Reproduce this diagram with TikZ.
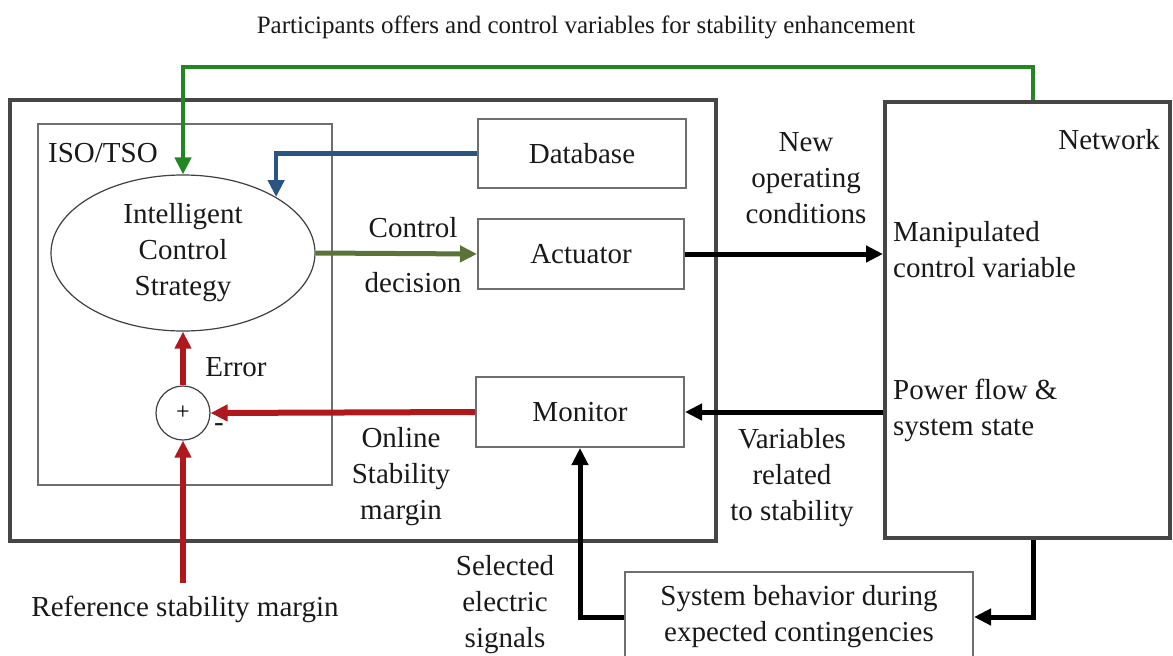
\documentclass[tikz,border=0pt]{standalone}
\usepackage{fontspec}
\setmainfont{Liberation Serif}
\usetikzlibrary{arrows.meta,shapes.geometric,calc}
\definecolor{topgreen}{RGB}{34,135,34}
\definecolor{dbblue}{RGB}{40,85,130}
\definecolor{olive}{RGB}{90,115,55}
\definecolor{sred}{RGB}{175,25,30}
\definecolor{frame}{RGB}{70,70,70}
\definecolor{lframe}{RGB}{110,110,110}
\tikzset{
  body/.style={font=\fontsize{29}{36}\selectfont, text=black!90},
  blockbox/.style={draw=lframe, line width=2pt, rectangle, inner sep=0pt, body},
  lbl/.style={body, align=center, inner sep=0pt},
  lbll/.style={body, align=left, inner sep=0pt},
  tip/.style={-{Triangle[length=17pt,width=16pt]}},
  blk/.style={tip, line width=5pt, black},
  redarr/.style={tip, line width=6pt, sred},
  grnarr/.style={tip, line width=4.5pt, topgreen},
  bluarr/.style={tip, line width=4.5pt, dbblue},
  olvarr/.style={tip, line width=5pt, olive},
}
\begin{document}
\begin{tikzpicture}[x=1pt,y=-1pt]
\useasboundingbox (0,0) rectangle (1173,656);
% title
\node[lbl, font=\fontsize{25}{30}\selectfont] (title) at (586,27) {Participants offers and control variables for stability enhancement};
% outer controller box and ISO/TSO box
\node[draw=frame, line width=3.5pt, rectangle, inner sep=0pt, minimum width=706pt, minimum height=441pt] (outer) at (363,320.5) {};
\node[draw=lframe, line width=2pt, rectangle, inner sep=0pt, minimum width=294pt, minimum height=361pt] (iso) at (185,304.5) {};
\node[lbll, anchor=west] (isolbl) at (48,153) {ISO/TSO};
% network
\node[draw=frame, line width=4pt, rectangle, inner sep=0pt, minimum width=285pt, minimum height=436pt, fill=white] (net) at (1027.5,320) {};
\node[lbll, anchor=east] (netlbl) at (1160,140) {Network};
\node[lbll, anchor=west] (manip) at (893,250) {Manipulated\\control variable};
\node[lbll, anchor=west] (pflow) at (893,410) {Power flow \&\\system state};
% blocks
\node[blockbox, minimum width=208pt, minimum height=69pt] (db) at (582,153.5) {Database};
\node[blockbox, minimum width=206pt, minimum height=70pt] (act) at (581,254) {Actuator};
\node[blockbox, minimum width=208pt, minimum height=70pt] (mon) at (580,412) {Monitor};
\node[blockbox, minimum width=348pt, minimum height=90pt, align=center] (cont) at (799,617) {System behavior during\\expected contingencies};
% ellipse and summing junction
\node[draw=black!75, line width=1.2pt, ellipse, inner sep=0pt, minimum width=264pt, minimum height=156pt, align=center, body] (ell) at (183,253) {Intelligent\\Control\\Strategy};
\node[draw=black!75, line width=1.2pt, circle, inner sep=0pt, minimum size=54pt, font=\fontsize{24}{24}\selectfont] (sum) at (183,413) {+};
\node[lbl] (minus) at (219,428) {-};
\node[lbl] (err) at (236,367) {Error};
% labels
\node[lbl] (cdec) at (413,255) {Control\\[19pt]decision};
\node[lbl] (newop) at (806,178) {New\\operating\\conditions};
\node[lbl] (online) at (401,477) {Online\\Stability\\margin};
\node[lbl] (vars) at (792,478) {Variables\\related\\to stability};
\node[lbl] (sel) at (505,605) {Selected\\electric\\signals};
\node[lbl] (refm) at (185,609) {Reference stability margin};
% coordinates
\coordinate (gx) at (1033,67);
\coordinate (refpt) at (183,583);
% connectors
\draw[grnarr] (gx |- net.north) -- (gx) -| (ell.north);
\draw[bluarr] (db.west) -| (ell.31);
\draw[olvarr] (ell.east) -- (act.west);
\draw[blk] (act.east) -- (net.west |- act.east);
\draw[blk] (net.west |- mon.east) -- (mon.east);
\draw[blk] (gx |- net.south) -- (gx |- cont.east) -- (cont.east);
\draw[blk] (cont.west) -| (mon.south);
\draw[redarr] (mon.west) -- (sum.east);
\draw[redarr] (sum.north) -- (ell.south);
\draw[redarr] (refpt) -- (sum.south);
\end{tikzpicture}
\end{document}
